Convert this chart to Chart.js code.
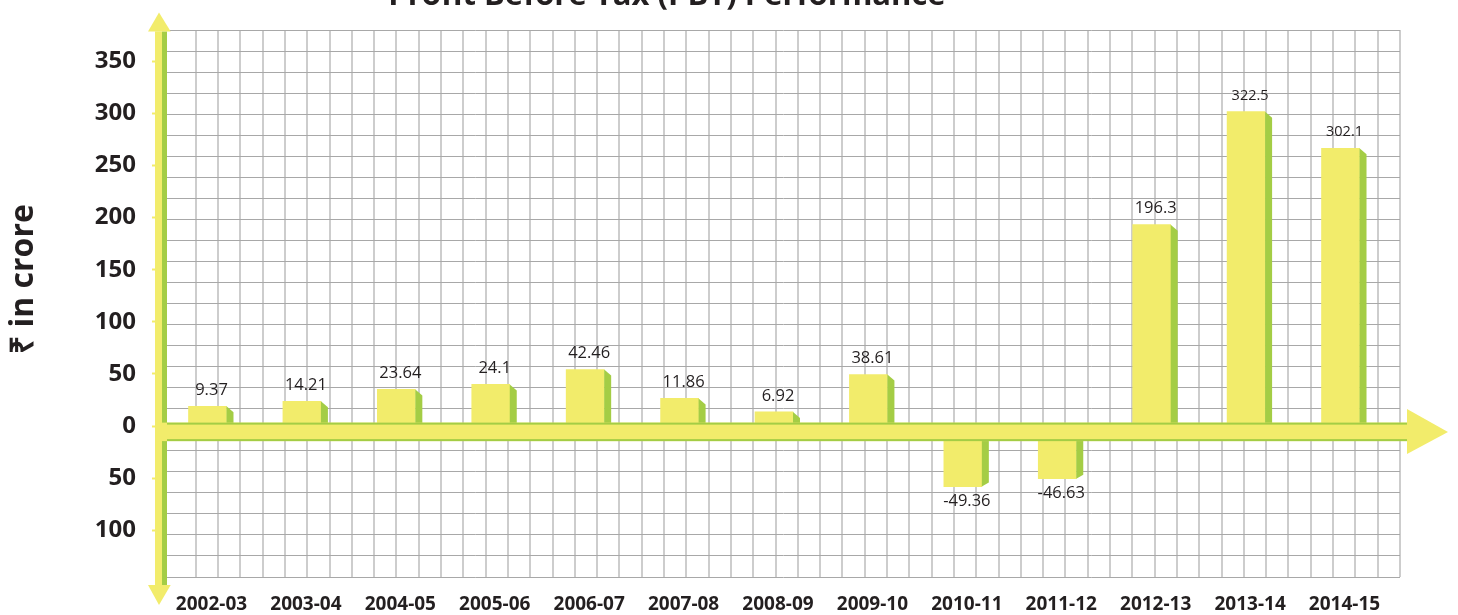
<!DOCTYPE html>
<html>
<head>
<meta charset="utf-8">
<script src="https://cdn.jsdelivr.net/npm/chart.js@4.4.0/dist/chart.umd.min.js"></script>
<style>
  html, body { margin: 0; padding: 0; background: #ffffff; }
  #wrap { width: 1458px; height: 615px; position: relative; }
</style>
</head>
<body>
<div id="wrap"><canvas id="c" width="1458" height="615"></canvas></div>
<script>
// ---------- data ----------
const categories = ['2002-03','2003-04','2004-05','2005-06','2006-07','2007-08','2008-09',
                    '2009-10','2010-11','2011-12','2012-13','2013-14','2014-15'];
// bar heights as drawn in the picture (axis units)
const barValues = [19.0, 23.8, 35.2, 40.0, 54.2, 26.6, 13.6, 49.5, -58.0, -50.4, 193.2, 301.6, 266.4];
// value labels printed above / below the bars
const valueLabels = ['9.37','14.21','23.64','24.1','42.46','11.86','6.92','38.61','-49.36','-46.63','196.3','322.5','302.1'];
const yTickStep = 50;
const chartTitle = 'Profit Before Tax (PBT) Performance';
const yAxisTitle = '\u20B9 in crore';

// ---------- styles ----------
const YELLOW = '#F2EC6B';
const GREEN = '#A4CD45';
const TEXT = '#231F20';
const SMALL_LABELS = new Set([11, 12]);

const decorPlugin = {
  id: 'decor',
  afterDatasetsDraw(chart) {
    const ctx = chart.ctx;
    const area = chart.chartArea;
    const ys = chart.scales.y;
    const z = ys.getPixelForValue(0);
    const meta = chart.getDatasetMeta(0);

    // 3D side faces of bars
    ctx.save();
    ctx.fillStyle = GREEN;
    meta.data.forEach((bar) => {
      const p = bar.getProps(['x', 'y', 'base', 'width'], true);
      const x1 = p.x + p.width / 2;
      ctx.beginPath();
      if (p.y < p.base) {
        ctx.moveTo(x1, p.y);
        ctx.lineTo(x1 + 7, p.y + 6);
        ctx.lineTo(x1 + 7, p.base);
        ctx.lineTo(x1, p.base);
      } else {
        ctx.moveTo(x1, p.base);
        ctx.lineTo(x1 + 7, p.base);
        ctx.lineTo(x1 + 7, p.y - 4);
        ctx.lineTo(x1, p.y);
      }
      ctx.closePath();
      ctx.fill();
    });

    // vertical arrow (y axis)
    const L = area.left;
    ctx.fillStyle = YELLOW;
    ctx.fillRect(L - 12, area.top + 1, 7, area.bottom + 8 - area.top - 1);
    ctx.fillStyle = GREEN;
    ctx.fillRect(L - 5, area.top + 1, 5, area.bottom + 8 - area.top - 1);
    ctx.fillStyle = YELLOW;
    ctx.beginPath();
    ctx.moveTo(L - 8, area.top - 18);
    ctx.lineTo(L - 19, area.top + 1);
    ctx.lineTo(L + 3.7, area.top + 1);
    ctx.closePath();
    ctx.fill();
    ctx.beginPath();
    ctx.moveTo(L - 19, area.bottom + 8);
    ctx.lineTo(L + 3.7, area.bottom + 8);
    ctx.lineTo(L - 8, area.bottom + 28);
    ctx.closePath();
    ctx.fill();

    // horizontal arrow band (zero line)
    const bx0 = L - 11;
    const bx1 = area.right + 7;
    ctx.fillStyle = YELLOW;
    ctx.fillRect(bx0, z - 3.5, bx1 - bx0, 18.5);
    ctx.fillStyle = GREEN;
    ctx.fillRect(L, z - 3.5, bx1 - L, 2);
    ctx.fillRect(L, z + 13, bx1 - L, 2);
    ctx.fillStyle = YELLOW;
    ctx.beginPath();
    ctx.moveTo(bx1, z - 17);
    ctx.lineTo(bx1 + 41, z + 6);
    ctx.lineTo(bx1, z + 28);
    ctx.closePath();
    ctx.fill();

    // value labels
    ctx.fillStyle = TEXT;
    ctx.textAlign = 'center';
    ctx.textBaseline = 'middle';
    meta.data.forEach((bar, i) => {
      const p = bar.getProps(['x', 'y', 'base'], true);
      const size = SMALL_LABELS.has(i) ? 14.5 : 16.5;
      ctx.font = size + 'px "Open Sans", sans-serif';
      const ty = p.y < p.base ? p.y - 16 : p.y + 15;
      ctx.fillText(valueLabels[i], p.x + 4, ty);
    });
    ctx.restore();
  },
  afterDraw(chart) {
    const ctx = chart.ctx;
    ctx.save();
    ctx.fillStyle = TEXT;
    // chart title (partly cut off at the top)
    ctx.font = 'bold 31px "Open Sans", sans-serif';
    ctx.textAlign = 'center';
    ctx.textBaseline = 'alphabetic';
    ctx.fillText(chartTitle, 667, 5);
    // y axis title
    ctx.translate(24, 279);
    ctx.rotate(-Math.PI / 2);
    ctx.font = 'bold 32px "Open Sans", sans-serif';
    ctx.textBaseline = 'middle';
    ctx.fillText(yAxisTitle, 0, 0);
    ctx.restore();
  }
};

new Chart(document.getElementById('c'), {
  type: 'bar',
  data: {
    datasets: [{
      data: barValues.map((v, i) => ({ x: i, y: v })),
      backgroundColor: YELLOW,
      borderWidth: 0,
      barThickness: 38,
      xAxisID: 'x',
      yAxisID: 'y'
    }]
  },
  options: {
    responsive: false,
    devicePixelRatio: 1,
    animation: false,
    layout: { padding: { left: 0, right: 58, top: 26, bottom: 0 } },
    plugins: { legend: { display: false }, tooltip: { enabled: false }, title: { display: false } },
    scales: {
      x: {
        type: 'linear',
        position: 'bottom',
        offset: false,
        min: -0.4289,
        max: 12.630,
        grid: { display: false, offset: false },
        border: { display: false },
        ticks: {
          stepSize: 1,
          includeBounds: false,
          autoSkip: false,
          maxRotation: 0,
          padding: 8,
          labelOffset: 4,
          color: TEXT,
          font: { family: '"Open Sans", sans-serif', size: 19, weight: 'bold' },
          callback: (v) => (Number.isInteger(v) && categories[v] !== undefined) ? categories[v] : ''
        },
        afterFit: (s) => { s.height = 38; }
      },
      xGrid: {
        type: 'linear',
        position: 'top',
        offset: false,
        min: -1.287,
        max: 54.004,
        grid: {
          color: (c) => (c.tick && c.tick.value < 0) ? 'rgba(0,0,0,0)' : '#CDCDCD',
          lineWidth: 2, drawTicks: false, offset: false
        },
        border: { display: false },
        ticks: { display: false, stepSize: 1, includeBounds: false },
        afterFit: (s) => { s.height = 0; }
      },
      y: {
        type: 'linear',
        position: 'left',
        min: -144.7,
        max: 379.5,
        grid: { drawOnChartArea: false, tickLength: 15, tickColor: YELLOW, tickWidth: 2 },
        border: { display: false },
        ticks: {
          stepSize: yTickStep,
          includeBounds: false,
          padding: 16,
          color: TEXT,
          font: { family: '"Open Sans", sans-serif', size: 24, weight: 'bold' },
          callback: (v) => String(Math.abs(v))
        },
        afterFit: (s) => { s.width = 167; }
      },
      yGrid: {
        type: 'linear',
        position: 'right',
        min: -140,
        max: 380,
        grid: { color: '#A8A8A8', lineWidth: 1, drawTicks: false },
        border: { display: false },
        ticks: { display: false, stepSize: 20, includeBounds: false },
        afterFit: (s) => { s.width = 0; }
      }
    }
  },
  plugins: [decorPlugin]
});
</script>
</body>
</html>
